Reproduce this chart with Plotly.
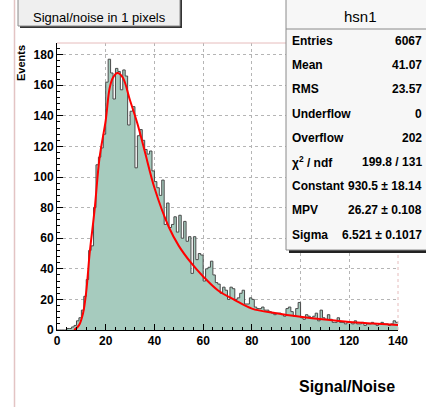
import plotly.graph_objects as go

# ---------------- data ----------------
bin_edges_lo = list(range(0, 140))  # 1-unit bins from 0 to 140
counts = [0, 0, 0, 0, 1, 1, 2, 3, 6, 8,
          13, 22, 33, 52, 55, 80, 108, 113, 119, 128,
          162, 177, 168, 151, 171, 169, 157, 170, 166, 134,
          143, 146, 106, 127, 131, 124, 118, 115, 117, 104,
          97, 93, 88, 98, 69, 83, 67, 69, 74, 64,
          75, 60, 71, 58, 61, 37, 61, 46, 50, 49,
          32, 40, 41, 45, 36, 31, 30, 24, 28, 26,
          20, 28, 27, 20, 21, 24, 26, 17, 17, 21,
          20, 15, 14, 14, 15, 13, 13, 12, 11, 10,
          11, 11, 10, 9, 14, 15, 12, 9, 14, 18,
          8, 7, 10, 9, 8, 9, 11, 6, 13, 8,
          7, 10, 7, 5, 5, 8, 5, 5, 4, 5,
          5, 4, 6, 4, 4, 5, 3, 4, 4, 5,
          4, 3, 4, 5, 4, 4, 3, 4, 6, 5]

fit_x = [7, 9, 10.7, 12, 13.4, 15.4, 17.5, 20, 21.6, 23, 24.8, 27, 30, 33, 36,
         40, 46, 50, 55, 60, 66, 73, 80, 90, 100, 110, 120, 130, 140]
fit_y = [0, 3, 11, 25, 50, 78, 113, 137, 158, 165, 168, 165, 150, 135, 117,
         93, 67, 55, 44, 35, 26, 19.6, 14, 11, 8.7, 6.8, 5.2, 4.2, 3.3]

x_ticks = [0, 20, 40, 60, 80, 100, 120, 140]
y_ticks = [0, 20, 40, 60, 80, 100, 120, 140, 160, 180]

hist_title = "Signal/noise in 1 pixels"
stats_name = "hsn1"
stat_labels = ["Entries", "Mean", "RMS", "Underflow", "Overflow",
               "χ<sup>2</sup> / ndf", "Constant", "MPV", "Sigma"]
stat_values = ["6067", "41.07", "23.57", "0", "202",
               "199.8 / 131", "930.5 ± 18.14", "26.27 ± 0.108", "6.521 ± 0.1017"]

# ---------------- layout helpers ----------------
L, R, T, B = 57, 398, 43, 330
W, H = R - L, B - T


def px(x):
    return (x - L) / W


def py(y):
    return (B - y) / H


SANS = "Liberation Sans, Arial, Helvetica"

step_x = bin_edges_lo + [140]
step_y = counts + [counts[-1]]

fig = go.Figure()
fig.add_trace(go.Scatter(
    x=step_x, y=step_y, mode="lines", line_shape="hv",
    line=dict(color="#4a4a4a", width=1),
    fill="tozeroy", fillcolor="#a6cbbe", hoverinfo="skip"))
fig.add_trace(go.Scatter(
    x=fit_x, y=fit_y, mode="lines", line_shape="spline",
    line=dict(color="#ff0000", width=2), hoverinfo="skip"))

axis_common = dict(
    showline=True, linecolor="black", linewidth=1,
    ticks="inside", ticklen=6, tickcolor="black",
    showgrid=True, gridcolor="#b5b5b5", griddash="dot", gridwidth=1,
    zeroline=False,
    tickfont=dict(family=SANS, size=12, color="black", weight="bold"),
)
fig.update_xaxes(range=[0, 140], tickvals=x_ticks,
                 minor=dict(ticks="inside", dtick=4, ticklen=3, tickcolor="black", showgrid=False),
                 **axis_common)
fig.update_yaxes(range=[0, 187.6], tickvals=y_ticks,
                 minor=dict(ticks="inside", dtick=4, ticklen=3, tickcolor="black", showgrid=False),
                 **axis_common)

shapes = []
# pink canvas line at left
shapes.append(dict(type="line", xref="paper", yref="paper",
                   x0=px(14.5), x1=px(14.5), y0=py(-5), y1=py(412),
                   line=dict(color="#e3c4c4", width=1.5)))
# pink frame top and right
shapes.append(dict(type="line", xref="paper", yref="paper",
                   x0=0, x1=1, y0=1, y1=1, line=dict(color="#e6bcbc", width=1)))
shapes.append(dict(type="line", xref="paper", yref="paper",
                   x0=1, x1=1, y0=0, y1=1, line=dict(color="#e6bcbc", width=1, dash="dot")))
# title box shadow + box
shapes.append(dict(type="rect", xref="paper", yref="paper",
                   x0=px(20), x1=px(182), y0=py(28), y1=py(-3),
                   fillcolor="#333333", line=dict(width=0)))
shapes.append(dict(type="rect", xref="paper", yref="paper",
                   x0=px(18), x1=px(180), y0=py(26), y1=py(-3),
                   fillcolor="#efefef", line=dict(color="#8a8a8a", width=1)))
# stats box shadow + box
shapes.append(dict(type="rect", xref="paper", yref="paper",
                   x0=px(289), x1=px(440), y0=py(253), y1=py(-3),
                   fillcolor="#222222", line=dict(width=0)))
shapes.append(dict(type="rect", xref="paper", yref="paper",
                   x0=px(286), x1=px(438), y0=py(250), y1=py(-3),
                   fillcolor="#f7f7f7", line=dict(color="#8a8a8a", width=1)))
shapes.append(dict(type="line", xref="paper", yref="paper",
                   x0=px(286), x1=px(438), y0=py(29), y1=py(29),
                   line=dict(color="#8a8a8a", width=1)))

annotations = []
annotations.append(dict(xref="paper", yref="paper", x=px(99), y=py(17),
                        text=hist_title, showarrow=False, xanchor="center", yanchor="middle",
                        font=dict(family=SANS, size=13, color="black")))
annotations.append(dict(xref="paper", yref="paper", x=px(360), y=py(16),
                        text=stats_name, showarrow=False, xanchor="center", yanchor="middle",
                        font=dict(family=SANS, size=15, color="black")))
for i, (lab, val) in enumerate(zip(stat_labels, stat_values)):
    yy = py(41 + 24.2 * i)
    annotations.append(dict(xref="paper", yref="paper", x=px(290), y=yy, text=lab,
                            showarrow=False, xanchor="left", yanchor="middle",
                            font=dict(family=SANS, size=12, color="black", weight="bold")))
    annotations.append(dict(xref="paper", yref="paper", x=px(424), y=yy, text=val,
                            showarrow=False, xanchor="right", yanchor="middle",
                            font=dict(family=SANS, size=12, color="black", weight="bold")))
annotations.append(dict(xref="paper", yref="paper", x=px(397), y=py(386),
                        text="Signal/Noise", showarrow=False, xanchor="right", yanchor="middle",
                        font=dict(family=SANS, size=16, color="black", weight="bold")))
annotations.append(dict(xref="paper", yref="paper", x=px(21), y=py(43),
                        text="Events", showarrow=False, textangle=-90,
                        xanchor="center", yanchor="top",
                        font=dict(family=SANS, size=11, color="black", weight="bold")))

fig.update_layout(
    width=426, height=407,
    margin=dict(l=L, r=426 - R, t=T, b=407 - B),
    paper_bgcolor="white", plot_bgcolor="white",
    showlegend=False, shapes=shapes, annotations=annotations,
)

fig.write_html("out.html")
